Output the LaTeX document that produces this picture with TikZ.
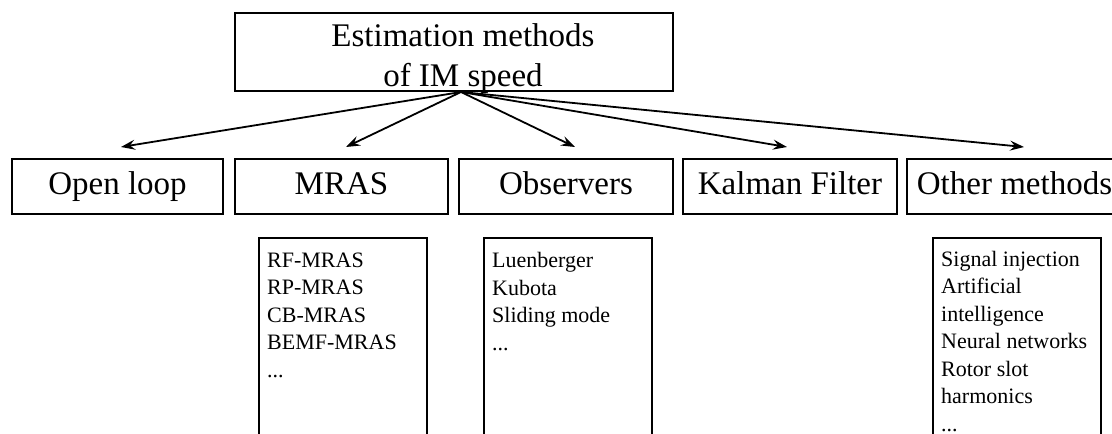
\documentclass[tikz,border=0pt]{standalone}
\usepackage{fontspec}
\setmainfont{Liberation Serif}
\usetikzlibrary{arrows.meta}
\begin{document}
\begin{tikzpicture}[x=1pt,y=-1pt,
  bigfont/.style={font=\fontsize{33}{40}\selectfont},
  methodbox/.style={draw,line width=1.8pt,minimum height=55pt,inner sep=0pt,
    text height=23pt,text depth=7pt,bigfont},
  listbox/.style={draw,line width=1.8pt,anchor=north west,minimum width=168pt,
    minimum height=230pt,inner sep=0pt},
  listtext/.style={anchor=north west,inner sep=0pt,align=left,
    font=\fontsize{22}{27.5}\selectfont},
  link/.style={line width=1.8pt,-{Stealth[length=14pt,width=10pt,inset=5pt]}}]
\clip (0,0) rectangle (1112,434);
\fill[white] (0,0) rectangle (1112,434);

% root of the classification
\node[draw,line width=1.8pt,minimum width=438pt,minimum height=78pt,inner sep=0pt]
  (root) at (454,52) {};
\node[align=center,inner sep=0pt,bigfont] (rootlbl) at (463,59)
  {Estimation methods\\of IM speed};

% method families
\node[methodbox,minimum width=211pt] (open)  at (117.5,186.5) {Open loop};
\node[methodbox,minimum width=213pt] (mras)  at (341.5,186.5) {MRAS};
\node[methodbox,minimum width=214pt] (obs)   at (566,186.5)   {Observers};
\node[methodbox,minimum width=214pt] (kal)   at (790,186.5)   {Kalman Filter};
\node[methodbox,minimum width=215pt] (other) at (1014.5,186.5) {Other methods};

% arrows fanning out from the root
\coordinate (hub) at (461,92);
\coordinate (tOpen)  at (121,147);
\coordinate (tMras)  at (346,147);
\coordinate (tObs)   at (575,147);
\coordinate (tKal)   at (787,147);
\coordinate (tOther) at (1024,147);
\draw[link] (hub) -- (tOpen);
\draw[link] (hub) -- (tMras);
\draw[link] (hub) -- (tObs);
\draw[link] (hub) -- (tKal);
\draw[link] (hub) -- (tOther);

% lists of variants
\node[listbox] (mraslist) at (258,237) {};
\node[listtext] (mrastext) at ([xshift=9pt,yshift=-15.5pt]mraslist.north west)
  {RF-MRAS\\RP-MRAS\\CB-MRAS\\BEMF-MRAS\\...};

\node[listbox] (obslist) at (483,237) {};
\node[listtext] (obstext) at ([xshift=9pt,yshift=-15.5pt]obslist.north west)
  {Luenberger\\Kubota\\Sliding mode\\...};

\node[listbox] (otherlist) at (932,237) {};
\node[listtext] (othertext) at ([xshift=9pt,yshift=-14pt]otherlist.north west)
  {Signal injection\\Artificial\\intelligence\\Neural networks\\Rotor slot\\harmonics\\...};
\end{tikzpicture}
\end{document}
